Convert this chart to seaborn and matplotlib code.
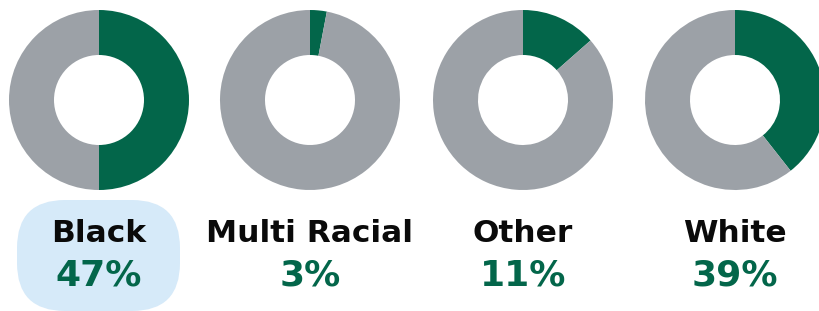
import matplotlib.pyplot as plt
from matplotlib.patches import FancyBboxPatch
import seaborn as sns

groups = ['Black', 'Multi Racial', 'Other', 'White']
share_labels = ['47%', '3%', '11%', '39%']
# wedge sizes as drawn in the picture (not always equal to the label)
wedge_values = [50, 3, 13.5, 39.4]

green = '#03664a'
gray = '#9ca1a7'

sns.set_theme(style='white')
plt.rcParams['font.family'] = ['DejaVu Sans']

W, H = 820, 311
fig = plt.figure(figsize=(W / 100, H / 100), dpi=100)
fig.patch.set_facecolor('white')

# pixel-space background axes for the highlight box
bg = fig.add_axes([0, 0, 1, 1], zorder=0)
bg.set_xlim(0, W)
bg.set_ylim(H, 0)
bg.axis('off')
bg.add_patch(FancyBboxPatch((17, 200), 163, 111,
                            boxstyle='round,pad=0,rounding_size=48',
                            facecolor='#d6eaf9', edgecolor='none'))

centers = [99, 310, 523, 735]
r = 90

for cx, name, lab, val in zip(centers, groups, share_labels, wedge_values):
    ax = fig.add_axes([(cx - r) / W, (H - 100 - r) / H, 2 * r / W, 2 * r / H], zorder=1)
    ax.pie([val, 100 - val], colors=[green, gray], startangle=90,
           counterclock=False, wedgeprops=dict(width=0.5, linewidth=0))
    ax.set_xlim(-1, 1)
    ax.set_ylim(-1, 1)
    ax.set_aspect('equal')
    ax.axis('off')
    bg.text(cx, 234, name, ha='center', va='center',
            fontsize=22.5, fontweight='bold', color='#0a0a0a')
    bg.text(cx, 276, lab, ha='center', va='center',
            fontsize=26, fontweight='bold', color=green)

fig.savefig('out.png', dpi=100)
